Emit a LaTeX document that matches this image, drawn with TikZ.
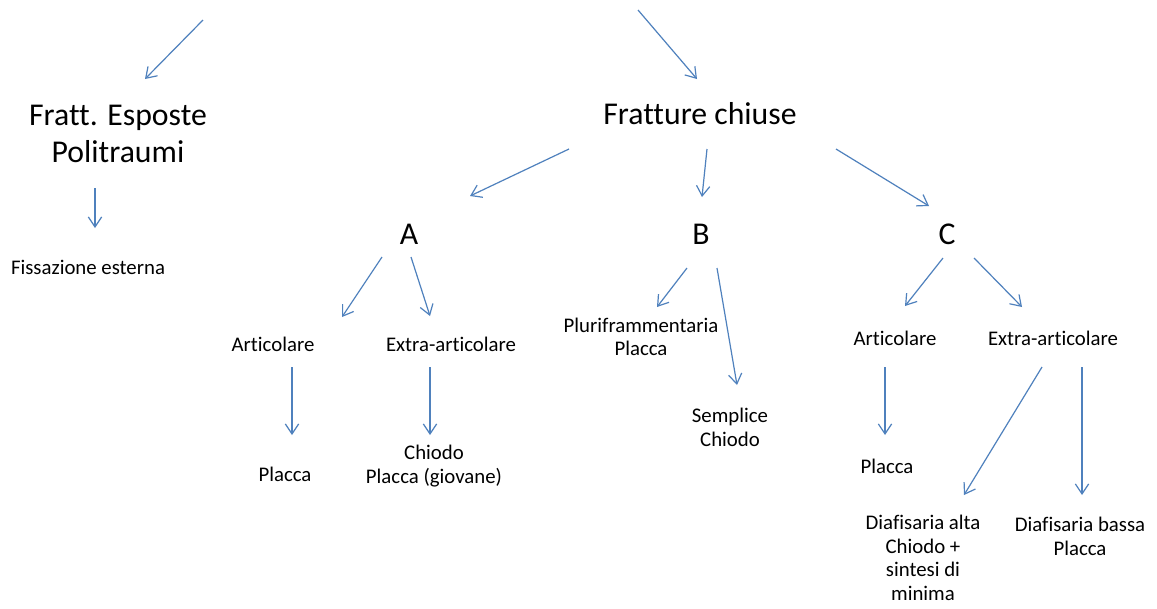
\documentclass[tikz,border=0pt]{standalone}
\usepackage{fontspec}
\setmainfont{Carlito}[Ligatures={NoCommon}]
\usetikzlibrary{arrows.meta}
\definecolor{arrowblue}{RGB}{79,129,189}
\tikzset{
  big/.style={inner sep=0pt, align=center, font=\fontsize{23.8}{28}\selectfont},
  small/.style={inner sep=0pt, align=center, font=\fontsize{15.6}{17.6}\selectfont},
  conn/.style={draw=arrowblue, line width=0.9pt, -{Straight Barb[length=7.5pt,width=10pt]}}
}
\begin{document}
\begin{tikzpicture}[x=0.75pt,y=-0.75pt]
\useasboundingbox (0,0) rectangle (1157,608);
\fill[white] (0,0) rectangle (1157,608);

% nodes
\node[big] (fes) at (118,134) {Fratt. Esposte\\Politraumi};
\node[big] (fc) at (700,114) {Fratture chiuse};
\node[small] (fis) at (88,267.5) {Fissazione esterna};
\node[big] (A) at (409,234) {A};
\node[big] (B) at (701,234) {B};
\node[big] (C) at (947,234) {C};
\node[small] (artA) at (273,344) {Articolare};
\node[small] (extA) at (451,344) {Extra-articolare};
\node[small] (plA) at (285,474) {Placca};
\node[small] (chA) at (434,466) {Chiodo\\Placca (giovane)};
\node[small] (pluri) at (641,337) {Pluriframmentaria\\Placca};
\node[small] (semp) at (730,427.5) {Semplice\\Chiodo};
\node[small] (artC) at (895,338) {Articolare};
\node[small] (extC) at (1053,338) {Extra-articolare};
\node[small] (plC) at (887,466) {Placca};
\node[small] (dalta) at (923,558) {Diafisaria alta\\Chiodo +\\sintesi di\\minima};
\node[small] (dbassa) at (1080,536.5) {Diafisaria bassa\\Placca};

% connector end points
\coordinate (s1) at (203,20);   \coordinate (e1) at (145,79);
\coordinate (s2) at (638,10);   \coordinate (e2) at (697,79);
\coordinate (s3) at (95,188);   \coordinate (e3) at (95,228);
\coordinate (s4) at (569,149);  \coordinate (e4) at (470,196);
\coordinate (s5) at (707,149);  \coordinate (e5) at (702,197);
\coordinate (s6) at (836,149);  \coordinate (e6) at (929,206);
\coordinate (s7) at (382,257);  \coordinate (e7) at (342,317);
\coordinate (s8) at (411,257);  \coordinate (e8) at (430,316);
\coordinate (s9) at (292,367);  \coordinate (e9) at (292,435);
\coordinate (s10) at (430,367); \coordinate (e10) at (430,435);
\coordinate (s11) at (687,268); \coordinate (e11) at (657,307);
\coordinate (s12) at (717,268); \coordinate (e12) at (737,385);
\coordinate (s13) at (943,258); \coordinate (e13) at (905,306);
\coordinate (s14) at (974,258); \coordinate (e14) at (1022,307);
\coordinate (s15) at (885,367); \coordinate (e15) at (885,435);
\coordinate (s16) at (1042,367);\coordinate (e16) at (964,495);
\coordinate (s17) at (1082,367);\coordinate (e17) at (1082,495);

\foreach \i in {1,...,17} {\draw[conn] (s\i) -- (e\i);}
\end{tikzpicture}
\end{document}
